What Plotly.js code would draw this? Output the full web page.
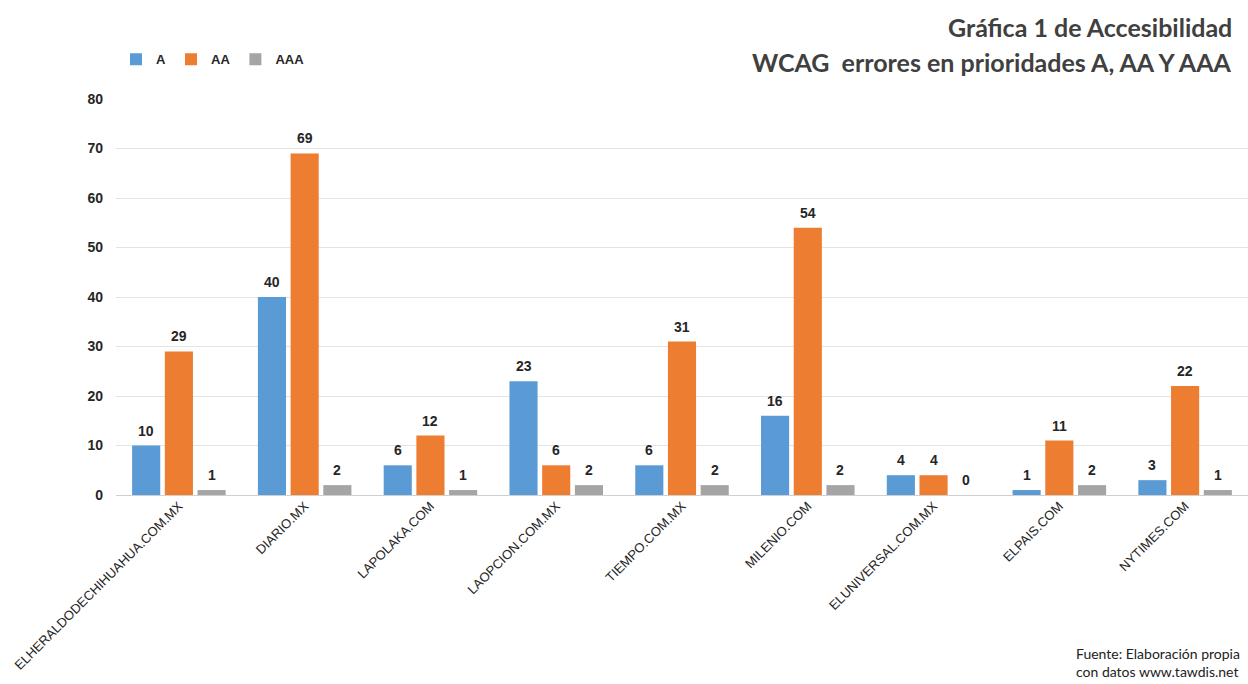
<!DOCTYPE html>
<html><head><meta charset="utf-8">
<script src="https://cdn.plot.ly/plotly-3.0.1.min.js"></script>
<style>html,body{margin:0;padding:0;background:#fff}#chart{width:1248px;height:684px}</style>
</head><body><div id="chart"></div>
<script>
const categories = ["ELHERALDODECHIHUAHUA.COM.MX","DIARIO.MX","LAPOLAKA.COM","LAOPCION.COM.MX","TIEMPO.COM.MX","MILENIO.COM","ELUNIVERSAL.COM.MX","ELPAIS.COM","NYTIMES.COM"];
const seriesNames = ["A", "AA", "AAA"];
const seriesA   = [10, 40, 6, 23, 6, 16, 4, 1, 3];
const seriesAA  = [29, 69, 12, 6, 31, 54, 4, 11, 22];
const seriesAAA = [1, 2, 1, 2, 2, 2, 0, 2, 1];
const yTicks = [0,10,20,30,40,50,60,70,80];

const colors = ['#5b9bd5', '#ed7d31', '#a5a5a5'];
const allSeries = [seriesA, seriesAA, seriesAAA];
const bargap = 0.22, bargroupgap = 0.14;

const data = allSeries.map((vals, i) => ({
  type:'bar', name:seriesNames[i], x:categories, y:vals,
  marker:{color:colors[i], line:{width:0}}, hoverinfo:'x+y'
}));

// value labels placed above each bar, offset within group from bargap settings
const slot = (1 - bargap) / allSeries.length;
const labelAnns = [];
allSeries.forEach((vals, i) => {
  const off = (i - (allSeries.length - 1) / 2) * slot;
  vals.forEach((v, j) => {
    labelAnns.push({xref:'x', yref:'y', x:j + off, y:v, yshift:15, showarrow:false,
      xanchor:'center', yanchor:'middle', text:String(v),
      font:{family:'Liberation Sans, Arial', size:14, color:'#262626', weight:'bold'}});
  });
});

const layout = {
  width:1248, height:684,
  margin:{l:116, r:0, t:99, b:189},
  barmode:'group', bargap:bargap, bargroupgap:bargroupgap,
  paper_bgcolor:'#fff', plot_bgcolor:'#fff',
  showlegend:true,
  legend:{orientation:'h', x:0.0, y:1.10, xanchor:'left', yanchor:'middle',
    font:{family:'Liberation Sans, Arial', size:13, color:'#262626', weight:'bold'},
    itemwidth:30, tracegroupgap:0, traceorder:'normal'},
  xaxis:{tickangle:-45, tickfont:{family:'Liberation Sans Narrow, Arial Narrow, Liberation Sans', size:13, color:'#262626'},
    showgrid:false, zeroline:false, showline:false, ticks:'', ticklen:0},
  yaxis:{range:[0,80], tickvals:yTicks, ticktext:yTicks.map(String),
    tickfont:{family:'Liberation Sans, Arial', size:14, color:'#262626', weight:'bold'},
    gridcolor:'#e4e4e4', gridwidth:1, zeroline:true, zerolinecolor:'#d0d0d0', zerolinewidth:1,
    showline:false, ticks:'', ticklabelstandoff:12},
  annotations:[
    {xref:'paper', yref:'paper', x:1, xshift:-14, y:1, yshift:72, xanchor:'right', yanchor:'middle', showarrow:false,
     text:'Gráfica 1 de Accesibilidad', font:{family:'Lato, Open Sans', size:25, color:'#404040', weight:'bold'}},
    {xref:'paper', yref:'paper', x:1, xshift:-14, y:1, yshift:37, xanchor:'right', yanchor:'middle', showarrow:false,
     text:'WCAG  errores en prioridades A, AA Y AAA', font:{family:'Lato, Open Sans', size:25, color:'#404040', weight:'bold'}},
    {xref:'paper', yref:'paper', x:1, xshift:-6, y:0, yshift:-167, xanchor:'right', yanchor:'middle', showarrow:false, align:'left',
     text:'Fuente: Elaboración propia<br>con datos www.tawdis.net', font:{family:'Lato, Open Sans', size:14, color:'#222'}}
  ].concat(labelAnns)
};
Plotly.newPlot('chart', data, layout, {displayModeBar:false, responsive:false});
</script></body></html>
